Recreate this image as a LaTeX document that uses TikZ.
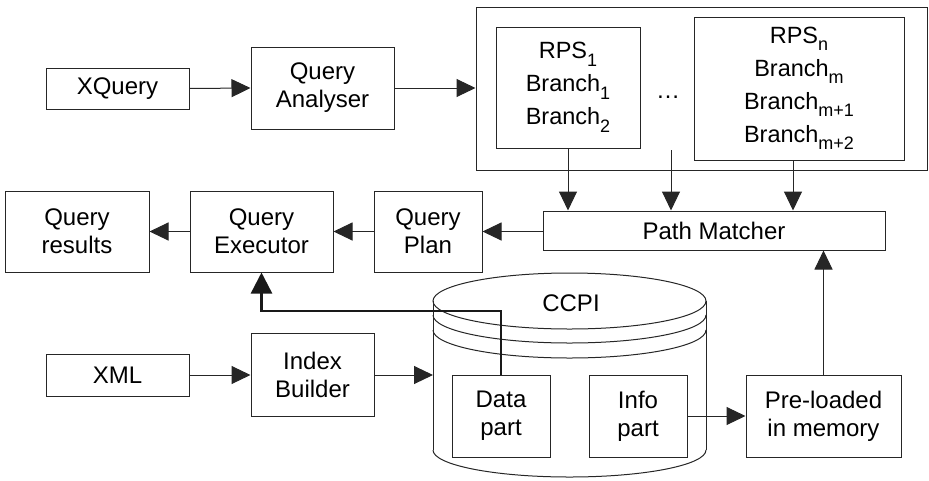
\documentclass[tikz,border=0pt]{standalone}
\usepackage{fontspec}
\setmainfont{Liberation Sans}
\usetikzlibrary{arrows.meta}
\newcommand{\sbs}[1]{\raisebox{-7.5pt}{\fontsize{18}{18}\selectfont #1}}
\begin{document}
\begin{tikzpicture}[x=1pt,y=-1pt,
  ln/.style={draw=black!85, line width=1pt},
  box/.style={ln, rectangle, inner sep=0pt, align=center, font=\fontsize{24}{28}\selectfont, text=black},
  subbox/.style={box, font=\fontsize{23.5}{33}\selectfont},
  txt/.style={inner sep=0pt, font=\fontsize{24}{28}\selectfont, text=black},
  arr/.style={ln, -{Triangle[length=19pt,width=18pt]}},
  thickarr/.style={draw=black!90, line width=2.4pt, -{Triangle[length=21pt,width=21pt]}},
]
\useasboundingbox (0,0) rectangle (929,480);

% top row
\node[box, minimum width=143, minimum height=41] (xq) at (117.5,88.5) {XQuery};
\node[box, minimum width=143, minimum height=82] (qa) at (322.5,88) {Query\\Analyser};
\node[ln, rectangle, inner sep=0pt, minimum width=451, minimum height=163] (outer) at (701.5,88.5) {};
\node[subbox, minimum width=144, minimum height=121] (rps1) at (568,87.5) {RPS\sbs{1}\\Branch\sbs{1}\\Branch\sbs{2}};
\node[txt] (dots) at (668,97) {…};
\node[subbox, minimum width=210, minimum height=143] (rpsn) at (799,88.5) {RPS\sbs{n}\\Branch\sbs{m}\\Branch\sbs{m+1}\\Branch\sbs{m+2}};

% middle row
\node[box, minimum width=342, minimum height=39] (pm) at (714,230.5) {Path Matcher};
\node[box, minimum width=144, minimum height=81] (qr) at (77,231.5) {Query\\results};
\node[box, minimum width=143, minimum height=81] (qe) at (261.5,231.5) {Query\\Executor};
\node[box, minimum width=108, minimum height=81] (qp) at (428,231.5) {Query\\Plan};

% bottom row
\node[box, minimum width=143, minimum height=42] (xml) at (117.5,375) {XML};
\node[box, minimum width=123, minimum height=83] (ib) at (312.5,374.5) {Index\\Builder};

% cylinder
\draw[ln] (569.5,301) ellipse [x radius=136.5pt, y radius=28pt];
\draw[ln] (433,315) arc[start angle=180, end angle=360, x radius=136.5pt, y radius=28pt];
\draw[ln] (433,330) arc[start angle=180, end angle=360, x radius=136.5pt, y radius=28pt];
\draw[ln] (433,301) -- (433,450);
\draw[ln] (706,301) -- (706,450);
\draw[ln] (433,450) arc[start angle=180, end angle=360, x radius=136.5pt, y radius=27pt];
\coordinate (cylleft) at (433,375);
\node[txt] (ccpi) at (571,303) {CCPI};

\node[box, minimum width=98, minimum height=82] (dp) at (501,416) {Data\\part};
\node[box, minimum width=98, minimum height=82] (ip) at (638,416) {Info\\part};
\node[box, minimum width=155, minimum height=82] (pl) at (823.5,416) {Pre-loaded\\in memory};

% connectors
\draw[arr] (xq.east) -- (qa.west);
\draw[arr] (qa.east) -- (qa.east -| outer.west);
\draw[arr] (rps1.south) -- (rps1.south |- pm.north);
\coordinate (mid) at (671,150);
\draw[arr] (mid) -- (mid |- pm.north);
\draw[arr] ([xshift=-6pt]rpsn.south) -- ([xshift=-6pt]rpsn.south |- pm.north);
\draw[arr] (pm.west |- qp.east) -- (qp.east);
\draw[arr] (qp.west) -- (qe.east);
\draw[arr] (qe.west) -- (qr.east);
\coordinate (tk) at (262,311);
\draw[thickarr] (dp.north) |- (qe.south |- tk) -- (qe.south);
\draw[arr] (xml.east) -- (xml.east -| ib.west);
\draw[arr] (ib.east |- cylleft) -- (cylleft);
\draw[arr] (ip.east) -- (pl.west);
\draw[arr] (pl.north) -- (pl.north |- pm.south);
\end{tikzpicture}
\end{document}
